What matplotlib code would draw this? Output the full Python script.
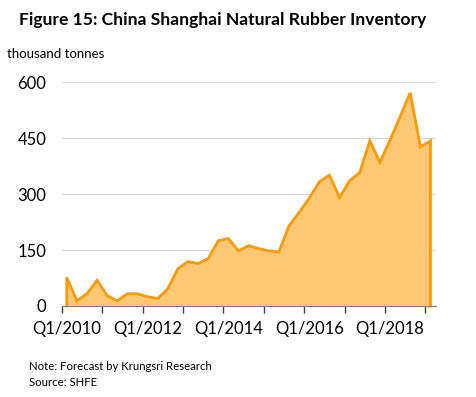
import numpy as np
import matplotlib
matplotlib.use('Agg')
import matplotlib.pyplot as plt

plt.rcParams['font.family'] = ['Lato', 'DejaVu Sans']

# quarterly inventory, Q1/2010 .. Q1/2019 (thousand tonnes)
quarters = [f'Q{q}/{y}' for y in range(2010, 2019) for q in range(1, 5)] + ['Q1/2019']
inventory = [77, 14, 33, 69, 28, 14, 33, 33, 25, 20,
             46, 100, 119, 114, 127, 175, 181, 148, 162, 154,
             148, 145, 215, 251, 289, 333, 351, 291, 336, 358,
             443, 385, 445, 508, 572, 427, 443]
yticks = [0, 150, 300, 450, 600]
label_idx = [0, 8, 16, 24, 32]

fill_color = '#fdc875'
line_color = '#ff9a00'

fig = plt.figure(figsize=(4.76, 3.97), dpi=100)
ax = fig.add_axes([61.7 / 476, 1 - 306 / 397, (435.5 - 61.7) / 476, (306 - 82.3) / 397])

x = np.arange(len(inventory))
ax.fill_between(x, 0, inventory, color=fill_color, lw=0, zorder=2)
# outline incl. the vertical edges at both ends
ax.plot(np.r_[x[0], x, x[-1]], np.r_[0, inventory, 0], color=line_color, lw=2,
        solid_joinstyle='miter', zorder=3, clip_on=False)

ax.set_xlim(-0.5, len(inventory) - 0.5)
ax.set_ylim(0, 600)
ax.set_yticks(yticks)
ax.set_yticklabels([str(v) for v in yticks], fontsize=12)
ax.grid(axis='y', color='#d9d9d9', lw=1, zorder=0)
ax.tick_params(axis='y', length=0, pad=11)

ax.set_xticks(np.arange(-0.5, len(inventory) - 1, 4))
ax.set_xticklabels([])
ax.tick_params(axis='x', length=5, width=1, color='#404040', direction='out')
for i in label_idx:
    ax.text(i, -40, quarters[i], ha='center', va='top', fontsize=12,
            transform=ax.transData)

for s in ['top', 'right', 'left']:
    ax.spines[s].set_visible(False)
ax.spines['bottom'].set_color('#7f7f7f')
ax.spines['bottom'].set_zorder(4)

fig.text(19 / 476, 1 - 20 / 397, 'Figure 15: China Shanghai Natural Rubber Inventory',
         fontsize=12.6, fontweight='bold', va='center', ha='left')
fig.text(7 / 476, 1 - 54 / 397, 'thousand tonnes', fontsize=9.5, va='center', ha='left')
fig.text(29 / 476, 1 - 367 / 397, 'Note: Forecast by Krungsri Research', fontsize=8.2,
         va='center', ha='left')
fig.text(29 / 476, 1 - 382 / 397, 'Source: SHFE', fontsize=8.2, va='center', ha='left')

fig.savefig('out.png', dpi=100)
